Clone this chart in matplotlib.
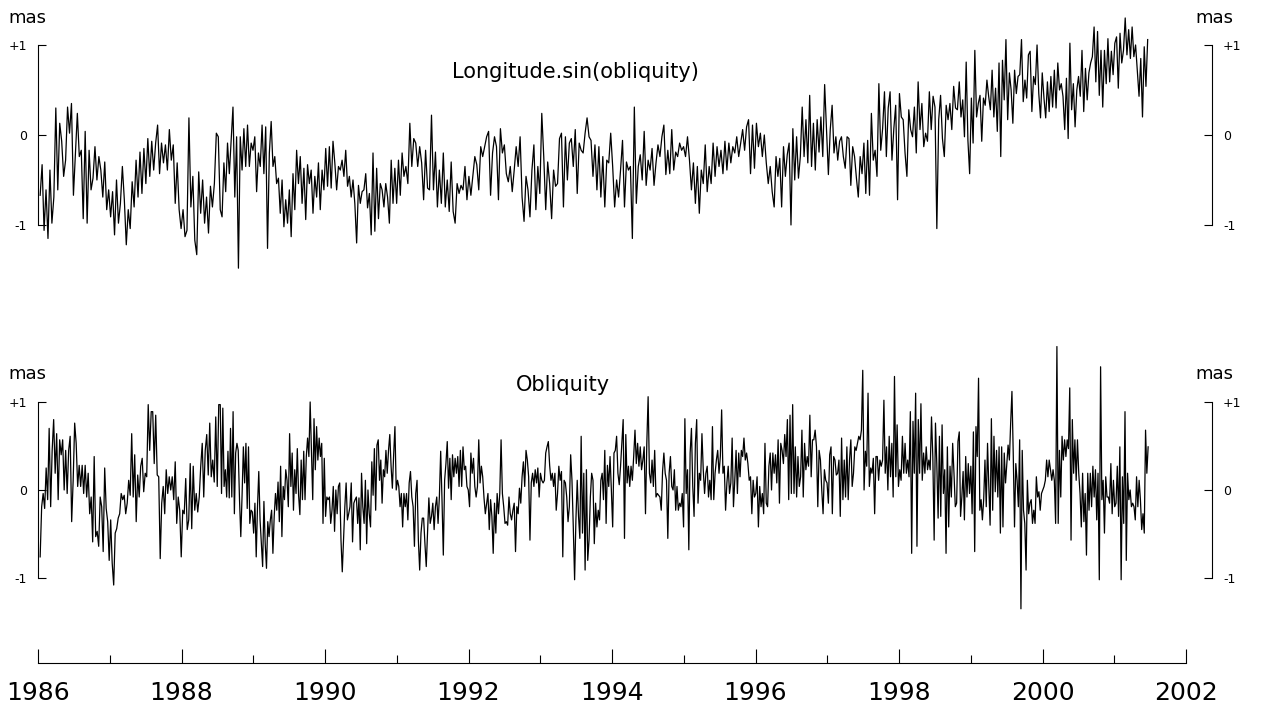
import numpy as np
import matplotlib.pyplot as plt

plt.rcParams['font.family'] = ['DejaVu Sans']

# celestial pole offsets (mas), listed in blocks; samples are evenly spread within each block
block_edges = [1986.03, 1988.54, 1991.10, 1993.68, 1996.26, 1998.84, 2001.49]

lon_86 = [-0.67, -0.33, -1.06, -0.61, -1.15, -0.39, -0.98, -0.69, 0.30, -0.61, 0.13, -0.07, -0.46, -0.28,
          0.31, 0.02, 0.35, -0.67, -0.22, 0.24, -0.24, -0.17, -0.93, 0.04, -0.98, -0.17, -0.61, -0.48,
          -0.13, -0.50, -0.24, -0.39, -0.69, -0.30, -0.83, -0.61, -0.91, -0.63, -1.11, -0.50, -0.98, -0.76,
          -0.35, -0.72, -1.22, -0.83, -1.04, -0.52, -0.80, -0.28, -0.69, -0.19, -0.65, -0.15, -0.54, -0.04,
          -0.46, -0.07, -0.39, -0.09, 0.11, -0.43, -0.09, -0.31, -0.11, -0.39, 0.06, -0.28, -0.11, -0.76,
          -0.31, -0.83, -1.04, -0.83, -1.13, -1.06, 0.19, -0.80, -0.46, -1.17, -1.33, -0.41, -0.87, -0.50,
          -0.98, -0.69, -1.09, -0.57, -0.80, -0.54, 0.02, -0.02]
lon_88 = [-0.83, -0.91, -0.31, -0.63, -0.09, -0.43, -0.06, 0.31, -0.69, -0.02, -1.48, -0.02, -0.39, 0.07,
          -0.35, 0.11, -0.35, -0.09, -0.17, -0.02, -0.63, -0.20, -0.35, 0.11, -0.43, 0.09, -1.26, -0.20,
          0.15, -0.35, -0.24, -0.54, -0.48, -0.87, -0.50, -1.02, -0.72, -0.98, -0.61, -1.13, -0.43, -0.83,
          -0.17, -0.54, -0.24, -0.76, -0.37, -0.94, -0.33, -0.54, -0.39, -0.87, -0.46, -0.69, -0.31, -0.83,
          -0.39, -0.61, -0.15, -0.57, -0.13, -0.59, -0.07, -0.31, -0.61, -0.35, -0.39, -0.28, -0.46, -0.17,
          -0.57, -0.46, -0.69, -0.50, -0.76, -1.20, -0.56, -0.76, -0.63, -0.61, -0.43, -0.81, -0.65, -1.11,
          -0.20, -1.07, -0.37, -0.93, -0.54, -0.61, -0.80, -0.54, -0.69, -0.98, -0.28, -0.76, -0.37, -0.76,
          -0.28, -0.67, -0.20]
lon_91 = [-0.46, -0.35, -0.54, 0.13, -0.35, -0.04, -0.09, -0.35, -0.13, -0.31, -0.72, -0.17, -0.59, -0.61,
          0.22, -0.61, -0.19, -0.80, -0.39, -0.76, -0.20, -0.80, -0.50, -0.85, -0.30, -0.85, -0.98, -0.54,
          -0.65, -0.56, -0.61, -0.35, -0.72, -0.46, -0.67, -0.46, -0.24, -0.33, -0.61, -0.13, -0.24, -0.13,
          -0.02, 0.04, -0.67, -0.20, -0.02, -0.13, -0.72, 0.07, -0.20, -0.11, -0.43, -0.52, -0.35, -0.63,
          -0.39, -0.13, -0.35, -0.02, -0.69, -0.96, -0.46, -0.61, -0.91, -0.39, -0.11, -0.83, -0.35, -0.65,
          0.24, -0.24, -0.83, -0.30, -0.54, -0.93, -0.39, -0.57, -0.54, -0.04, 0.02, -0.80, -0.02, -0.50,
          -0.09, -0.04, -0.35, 0.06, -0.65, -0.09, -0.17, -0.20, 0.02, 0.19]
lon_93 = [-0.02, -0.06, -0.46, -0.11, -0.61, -0.13, -0.69, -0.24, -0.80, -0.28, -0.31, 0.02, -0.35, -0.80,
          -0.50, -0.69, -0.39, -0.06, -0.80, -0.30, -0.39, -0.35, -1.15, 0.31, -0.76, -0.35, -0.22, -0.50,
          0.04, -0.56, -0.28, -0.39, -0.15, -0.56, -0.31, -0.11, -0.24, -0.02, 0.11, -0.44, -0.17, -0.43,
          0.06, -0.39, -0.19, -0.24, -0.09, -0.17, -0.13, -0.24, -0.02, -0.28, -0.61, -0.31, -0.76, -0.35,
          -0.87, -0.39, -0.54, -0.11, -0.63, -0.35, -0.54, -0.09, -0.46, -0.13, -0.35, -0.17, -0.43, -0.07,
          -0.39, -0.09, -0.31, -0.13, -0.20, -0.02, -0.24, -0.09, 0.06, -0.17, 0.09, 0.17, -0.43, 0.11,
          -0.37, 0.13, -0.13, 0.02, -0.24, 0.00, -0.31, -0.54, -0.35, -0.63]
lon_96 = [-0.80, -0.24, -0.46, -0.26, -0.80, -0.13, -0.46, -0.22, -0.09, -1.00, 0.07, -0.50, -0.02, -0.48,
          -0.24, 0.31, -0.24, 0.17, -0.31, 0.44, -0.35, 0.13, -0.39, 0.17, -0.19, 0.20, -0.24, 0.56,
          0.06, -0.44, 0.06, 0.33, -0.20, -0.02, -0.28, -0.07, -0.02, -0.24, -0.37, -0.02, -0.04, -0.56,
          -0.13, -0.24, -0.48, -0.69, -0.24, -0.43, -0.09, -0.65, -0.06, -0.67, 0.24, -0.28, -0.17, -0.46,
          0.57, -0.17, 0.07, 0.48, -0.24, 0.30, 0.48, -0.28, 0.07, 0.33, -0.72, 0.46, 0.20, 0.17,
          -0.20, -0.46, 0.28, 0.06, -0.02, 0.31, -0.20, 0.59, 0.06, 0.35, -0.13, 0.02, -0.07, 0.48,
          0.06, 0.43, 0.31, -1.04, 0.17, 0.44, -0.04, -0.24, 0.33, 0.17, 0.35, 0.06, 0.54, 0.30, 0.28]
lon_98 = [0.59, 0.20, 0.39, -0.02, 0.81, -0.06, -0.43, 0.41, -0.09, 0.94, 0.20, 0.35, 0.44, -0.07,
          0.41, 0.33, 0.61, 0.43, 0.28, 0.72, 0.20, 0.52, 0.04, 0.80, -0.24, 0.83, 0.39, 1.06,
          0.17, 0.69, 0.50, 0.13, 0.72, 0.46, 0.65, 0.67, 1.06, 0.37, 0.61, 0.41, 0.89, 0.93,
          0.26, 0.65, 0.56, 1.00, 0.46, 0.19, 0.69, 0.41, 0.19, 0.59, 0.26, 0.65, 0.31, 0.72,
          0.30, 0.80, 0.50, 0.57, 0.43, 0.06, 0.63, -0.04, 1.02, 0.28, 0.57, 0.09, 0.50, 0.65,
          0.43, 0.94, 0.26, 0.74, 0.39, 0.69, 0.80, 0.87, 1.20, 0.59, 1.15, 0.44, 0.94, 0.31,
          0.94, 0.57, 1.07, 0.59, 0.93, 0.67, 1.02, 1.09, 0.52, 1.13, 0.80, 0.94, 1.30, 0.89,
          1.17, 0.85, 1.20, 0.87, 1.00, 0.72, 0.43, 0.85, 0.20, 0.98, 0.54, 1.06]

obl_86 = [-0.76, -0.19, -0.04, -0.21, 0.25, -0.11, 0.70, -0.19, 0.45, 0.80, 0.19, 0.64, -0.11, 0.57,
          0.40, 0.57, 0.00, 0.45, -0.04, 0.45, 0.61, -0.36, 0.11, 0.76, 0.53, 0.04, 0.28, 0.04,
          0.28, -0.04, 0.28, -0.08, 0.19, -0.27, -0.08, -0.59, 0.38, -0.53, -0.47, -0.64, -0.08, -0.19,
          -0.70, 0.25, -0.21, -0.36, -0.80, -0.34, -0.83, -1.08, -0.49, -0.44, -0.32, -0.27, -0.04, -0.11,
          -0.06, -0.27, -0.15, 0.11, -0.06, 0.64, -0.08, 0.40, -0.36, 0.17, -0.08, 0.27, 0.36, -0.02,
          0.19, 0.15, 0.97, 0.45, 0.89, 0.89, 0.30, 0.85, 0.17, 0.15, -0.78, -0.15, 0.04, -0.27,
          0.23, -0.04, 0.15, 0.00, 0.15, -0.11, 0.32, -0.38, -0.08, -0.23, -0.76, -0.23, -0.27, 0.13,
          -0.45, -0.34, 0.30, -0.44, 0.27, -0.23, -0.04, -0.25, -0.08, 0.27, 0.53, -0.08, 0.45, 0.63,
          0.17, 0.76, 0.15, 0.34, 0.09, 0.83, 0.04, 0.97]
obl_88 = [0.97, -0.04, 0.93, 0.04, 0.23, -0.08, 0.44, -0.09, 0.70, -0.08, 0.89, -0.27, 0.42, 0.53,
          0.45, -0.11, -0.53, -0.06, 0.49, 0.08, 0.53, -0.21, 0.49, -0.38, -0.23, -0.25, -0.49, -0.15,
          -0.76, -0.19, 0.21, -0.34, -0.61, -0.87, -0.13, -0.61, -0.89, -0.36, -0.53, -0.34, -0.23, -0.72,
          -0.30, -0.04, -0.23, 0.09, -0.36, 0.27, -0.53, 0.04, -0.11, 0.23, 0.11, -0.19, 0.64, 0.04,
          0.42, -0.23, 0.23, -0.04, 0.47, -0.06, -0.28, 0.34, -0.11, 0.44, -0.11, 0.38, 0.59, 0.38,
          1.00, 0.42, -0.11, 0.81, 0.23, 0.72, 0.34, 0.59, 0.38, 0.53, -0.38, 0.36, -0.30, -0.08,
          -0.11, -0.08, -0.38, -0.23, 0.04, -0.47, 0.00, -0.27, 0.04, 0.08, -0.57, -0.93, -0.57, -0.19,
          0.08, -0.34, -0.27, -0.19, 0.08, -0.59, -0.15, -0.11, -0.08, -0.38, -0.09, -0.68, 0.19, -0.19,
          -0.38, 0.11, -0.61, 0.00, -0.27, -0.42, 0.32, -0.06, 0.47, -0.23, 0.51, 0.57, 0.11, 0.34,
          -0.15, 0.23, 0.15, 0.45, 0.19, 0.45, 0.63, 0.27, 0.02, 0.40, 0.72, 0.00, 0.11, 0.04,
          -0.19, -0.04, -0.42]
obl_91 = [-0.04, -0.19, -0.04, -0.34, 0.08, 0.21, -0.08, -0.19, -0.64, -0.04, 0.11, -0.57, -0.91, -0.49,
          -0.32, -0.32, -0.61, -0.87, -0.49, -0.09, -0.38, -0.30, -0.15, -0.45, -0.19, -0.08, -0.38, -0.08,
          0.44, -0.11, -0.74, 0.11, 0.30, 0.55, 0.02, 0.36, -0.11, 0.40, 0.15, 0.36, 0.19, 0.38,
          0.04, 0.45, 0.04, 0.49, 0.23, 0.27, 0.04, 0.00, -0.19, 0.42, 0.19, 0.36, 0.04, -0.08,
          0.04, 0.57, 0.08, 0.27, 0.15, -0.09, -0.27, -0.15, -0.04, -0.45, -0.11, -0.30, -0.72, -0.15,
          -0.49, -0.04, -0.27, -0.04, 0.57, -0.04, -0.19, -0.38, -0.36, -0.40, -0.08, -0.27, -0.34, -0.23,
          -0.15, -0.70, -0.19, -0.27, 0.02, -0.15, 0.15, 0.32, 0.04, 0.45, 0.34, 0.15, -0.57, 0.08,
          0.19, 0.04, 0.23, 0.08, 0.25, -0.08, 0.19, 0.11, 0.08, 0.11, 0.42, 0.49, 0.55, 0.28,
          0.11, 0.19, 0.04, 0.19, -0.23, -0.04, 0.27, 0.11, 0.21, -0.76, 0.11, 0.08, -0.08, -0.36,
          -0.19, 0.40, 0.11, -0.42, -1.02, -0.34, 0.11, -0.30, -0.55, 0.61, -0.49, 0.19, -0.91, 0.23,
          -0.80]
obl_93 = [-0.57, -0.08, 0.19, 0.11, -0.61, -0.15, -0.42, -0.23, -0.34, 0.11, 0.19, -0.11, 0.45, -0.38,
          0.28, 0.04, 0.38, 0.00, -0.42, 0.42, 0.45, 0.61, 0.19, 0.06, 0.27, 0.53, 0.80, -0.55,
          0.63, 0.08, 0.27, 0.04, 0.27, 0.11, 0.38, 0.68, 0.30, 0.53, 0.27, 0.49, 0.23, 0.34,
          0.49, -0.27, 0.53, 1.06, 0.19, 0.08, 0.34, 0.04, 0.45, -0.08, -0.04, -0.06, -0.08, -0.23,
          0.21, 0.42, 0.19, 0.11, -0.55, 0.19, 0.38, 0.04, 0.00, 0.23, -0.23, 0.04, -0.23, -0.15,
          -0.19, -0.04, -0.42, 0.81, -0.04, 0.23, -0.68, 0.42, 0.70, 0.04, -0.30, 0.53, 0.80, -0.15,
          0.19, 0.11, 0.64, 0.23, -0.04, 0.19, 0.27, -0.08, 0.11, -0.11, 0.72, -0.11, 0.19, 0.34,
          0.45, 0.19, 0.38, 0.91, 0.19, 0.27, -0.23, 0.08, 0.27, -0.04, 0.08, 0.59, -0.19, 0.11,
          0.45, -0.04, 0.42, 0.15, 0.45, 0.38, 0.59, 0.34, 0.42, 0.30, 0.11, 0.15, -0.27, 0.11,
          -0.08, -0.04, 0.15, -0.42, 0.04, -0.19, -0.04, -0.27, 0.53, -0.15, -0.19, 0.27, 0.42, 0.00,
          0.42]
obl_96 = [0.19, 0.40, 0.08, 0.57, -0.15, 0.53, 0.45, 0.30, 0.63, 0.38, 0.80, -0.11, 0.85, -0.04,
          0.97, -0.04, 0.49, -0.08, 0.38, 0.04, 0.15, 0.68, -0.08, 0.53, 0.23, 0.38, 0.27, 0.85,
          0.15, 0.57, 0.57, 0.68, 0.49, -0.19, 0.45, 0.34, 0.00, -0.27, 0.23, 0.11, 0.08, -0.15,
          0.40, 0.49, -0.27, 0.38, 0.34, 0.17, 0.19, 0.34, -0.30, 0.59, -0.11, 0.34, -0.08, 0.49,
          -0.11, 0.34, 0.57, 0.04, 0.19, 0.49, 0.45, 0.53, 0.61, 0.57, 0.68, 1.36, 0.00, 0.44,
          0.27, 1.10, 0.04, 0.25, 0.19, 0.36, -0.27, 0.38, 0.38, 0.11, 0.34, 0.27, 0.34, 1.02,
          0.19, 0.49, 0.00, 0.61, 0.15, 0.53, -0.08, 1.29, 0.15, 0.74, 0.04, 0.23, 0.11, 0.61,
          0.19, 0.53, 0.19, 0.34, 0.15, 0.89, -0.72, 0.78, 0.19, 1.10, -0.64, 0.80, 0.19, 0.98,
          0.11, 0.42, 0.19, 0.49, 0.23, 0.34, 0.23, 0.83, 0.38, -0.57, 0.76, 0.30, -0.32, 0.61,
          -0.30, 0.74, -0.04, 0.23, -0.72, 0.49, -0.42, 0.27, -0.08, 0.53, 0.19, -0.19, -0.15, 0.55]
obl_98 = [0.66, -0.30, -0.08, 0.21, -0.34, 0.38, -0.08, 0.30, -0.04, 0.27, -0.27, 0.66, -0.70, 0.72,
          0.38, 1.27, -0.23, -0.11, -0.34, -0.11, 0.34, -0.19, 0.53, 0.04, -0.40, 0.81, -0.23, 0.61,
          -0.02, 0.45, -0.08, 0.49, -0.49, 0.49, -0.42, 0.42, 0.08, 0.30, 0.51, 0.34, 0.76, 1.12,
          0.42, -0.42, 0.30, 0.11, -0.19, 0.57, -1.35, 0.45, -0.23, -0.38, -0.91, 0.11, -0.27, -0.15,
          -0.11, -0.38, -0.23, -0.38, 0.15, -0.08, -0.02, -0.23, -0.04, 0.00, 0.04, 0.11, 0.34, 0.15,
          0.34, 0.23, 0.11, 0.23, 0.11, -0.38, 1.63, -0.38, 0.45, -0.08, 0.61, 0.34, 0.57, 0.38,
          0.57, 0.47, 1.16, -0.57, 0.80, 0.19, 0.57, 0.11, 0.57, 0.19, -0.04, -0.42, 0.19, -0.36,
          -0.04, -0.74, 0.19, -0.23, 0.19, -0.19, 0.27, -0.08, 0.23, -0.34, 0.19, -1.02, 1.40, -0.11,
          0.11, -0.49, 0.15, -0.08, -0.08, -0.15, 0.30, -0.27, 0.11, -0.19, -0.15, 0.27, -0.30, 0.49,
          -1.02, 0.15, -0.38, 0.89, -0.80, 0.19, -0.11, 0.00, -0.19, -0.15, -0.19, -0.34, 0.15, -0.19,
          0.11, -0.11, -0.45, -0.27, -0.49, 0.68, 0.19, 0.49]

lon_blocks = [lon_86, lon_88, lon_91, lon_93, lon_96, lon_98]
obl_blocks = [obl_86, obl_88, obl_91, obl_93, obl_96, obl_98]

year_ticks = list(range(1986, 2003, 2))


def epochs(blocks):
    return np.concatenate([np.linspace(a, b, len(v), endpoint=False)
                           for a, b, v in zip(block_edges[:-1], block_edges[1:], blocks)])


W, H = 1262, 711
fig = plt.figure(figsize=(W / 100, H / 100), dpi=100)

ax1 = fig.add_axes([38 / W, 1 - 285 / H, 1148 / W, 270 / H])
ax2 = fig.add_axes([38 / W, 1 - 663 / H, 1148 / W, 328 / H])
ax1.set_ylim(-1.667, 1.333)
ax2.set_ylim(-1.966, 1.761)

for ax, blocks in ((ax1, lon_blocks), (ax2, obl_blocks)):
    ax.plot(epochs(blocks), np.concatenate(blocks), color='black', lw=0.9, clip_on=False)
    ax.set_xlim(1986, 2002)
    ax.patch.set_visible(False)
    ax.spines['top'].set_visible(False)
    ax.spines['left'].set_bounds(-1, 1)
    ax.spines['right'].set_bounds(-1, 1)
    ax.spines['right'].set_position(('axes', 1174 / 1148))
    for s in ('left', 'right', 'bottom'):
        ax.spines[s].set_linewidth(0.8)
    ax.set_yticks([-1, 0, 1])
    ax.set_yticklabels(['-1', '0', '+1'])
    ax.tick_params(axis='y', direction='in', length=6, width=0.8, labelsize=9, pad=8,
                   left=True, right=True, labelleft=True, labelright=True)

ax1.spines['bottom'].set_visible(False)
ax1.tick_params(axis='x', bottom=False, labelbottom=False)

ax2.set_xticks(year_ticks)
ax2.set_xticks(range(1987, 2002, 2), minor=True)
ax2.tick_params(axis='x', which='major', direction='in', length=10, width=0.8, labelsize=18, pad=13)
ax2.tick_params(axis='x', which='minor', direction='in', length=6, width=0.8)

fig.text(8 / W, 1 - 18 / H, 'mas', ha='left', va='center', fontsize=13)
fig.text(1233 / W, 1 - 18 / H, 'mas', ha='right', va='center', fontsize=13)
fig.text(8 / W, 1 - 374 / H, 'mas', ha='left', va='center', fontsize=13)
fig.text(1233 / W, 1 - 374 / H, 'mas', ha='right', va='center', fontsize=13)

fig.text(575 / W, 1 - 72 / H, 'Longitude.sin(obliquity)', ha='center', va='center', fontsize=15)
fig.text(563 / W, 1 - 385 / H, 'Obliquity', ha='center', va='center', fontsize=15)

fig.savefig('out.png', dpi=100)
